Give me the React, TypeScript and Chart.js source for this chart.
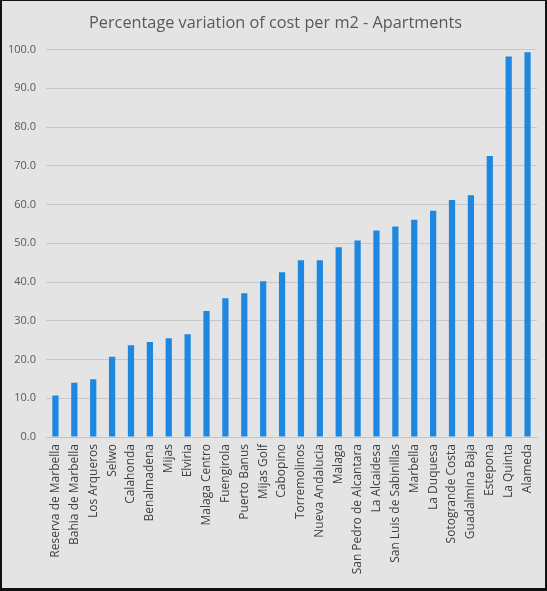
import React, { useEffect, useRef } from "react";
import { Chart, registerables } from "chart.js";

Chart.register(...registerables);

const categories = [
  "Reserva de Marbella", "Bahia de Marbella", "Los Arqueros", "Selwo", "Calahonda",
  "Benalmadena", "Mijas", "Elviria", "Malaga Centro", "Fuengirola", "Puerto Banus",
  "Mijas Golf", "Cabopino", "Torremolinos", "Nueva Andalucia", "Malaga",
  "San Pedro de Alcantara", "La Alcaidesa", "San Luis de Sabinillas", "Marbella",
  "La Duquesa", "Sotogrande Costa", "Guadalmina Baja", "Estepona", "La Quinta", "Alameda",
];

const values = [
  10.7, 14.0, 14.9, 20.7, 23.7, 24.5, 25.5, 26.5, 32.5, 35.8, 37.1,
  40.2, 42.5, 45.6, 45.6, 49.0, 50.7, 53.3, 54.3, 56.1,
  58.4, 61.2, 62.4, 72.5, 98.2, 99.3,
];

const title = "Percentage variation of cost per m2 - Apartments";

const shiftTitle = {
  id: "shiftTitle",
  afterLayout(chart: any) {
    const t = chart.titleBlock;
    if (t) t.left = t.left + 14;
  },
};

export default function App() {
  const ref = useRef<HTMLCanvasElement>(null);

  useEffect(() => {
    document.body.style.margin = "0";
    if (!ref.current) return;
    const chart = new Chart(ref.current, {
      type: "bar",
      data: {
        labels: categories,
        datasets: [
          {
            data: values,
            backgroundColor: "#1E88E0",
            categoryPercentage: 1,
            barPercentage: 0.33,
          },
        ],
      },
      plugins: [shiftTitle],
      options: {
        animation: false,
        responsive: false,
        devicePixelRatio: 1,
        layout: { padding: { left: 0, right: 10, top: 0, bottom: 0 } },
        plugins: {
          legend: { display: false },
          tooltip: { enabled: false },
          title: {
            display: true,
            text: title,
            color: "#595959",
            font: { family: "Open Sans", size: 16.3, weight: "normal" },
            padding: { top: 14, bottom: 16 },
          },
        },
        scales: {
          x: {
            grid: { display: false, drawTicks: false },
            border: { display: true, color: "#c4c4c4", width: 1 },
            ticks: {
              color: "#404040",
              font: { family: "Open Sans", size: 12 },
              maxRotation: 90,
              minRotation: 90,
              autoSkip: false,
              padding: 7,
            },
            afterFit: (s: any) => {
              s.height = 154;
              s.paddingLeft = 0;
              s.paddingRight = 0;
            },
          },
          y: {
            min: 0,
            max: 100,
            grid: { color: "#c8c8c8", drawTicks: false, lineWidth: 1 },
            border: { display: false },
            ticks: {
              stepSize: 10,
              color: "#595959",
              font: { family: "Open Sans", size: 11 },
              padding: 10,
              callback: (v: any) => Number(v).toFixed(1),
            },
            afterFit: (s: any) => {
              s.width = 46;
            },
          },
        },
      },
    });
    return () => chart.destroy();
  }, []);

  return (
    <div
      style={{
        position: "fixed",
        left: 0,
        top: 0,
        width: 547,
        height: 591,
        background: "#e4e4e4",
      }}
    >
      <canvas ref={ref} width={547} height={591} style={{ display: "block" }} />
      <div
        style={{
          position: "absolute",
          left: 0,
          top: 0,
          width: 547,
          height: 591,
          boxSizing: "border-box",
          borderStyle: "solid",
          borderColor: "#111",
          borderWidth: "1px 2px 3px 2px",
          pointerEvents: "none",
        }}
      />
    </div>
  );
}
